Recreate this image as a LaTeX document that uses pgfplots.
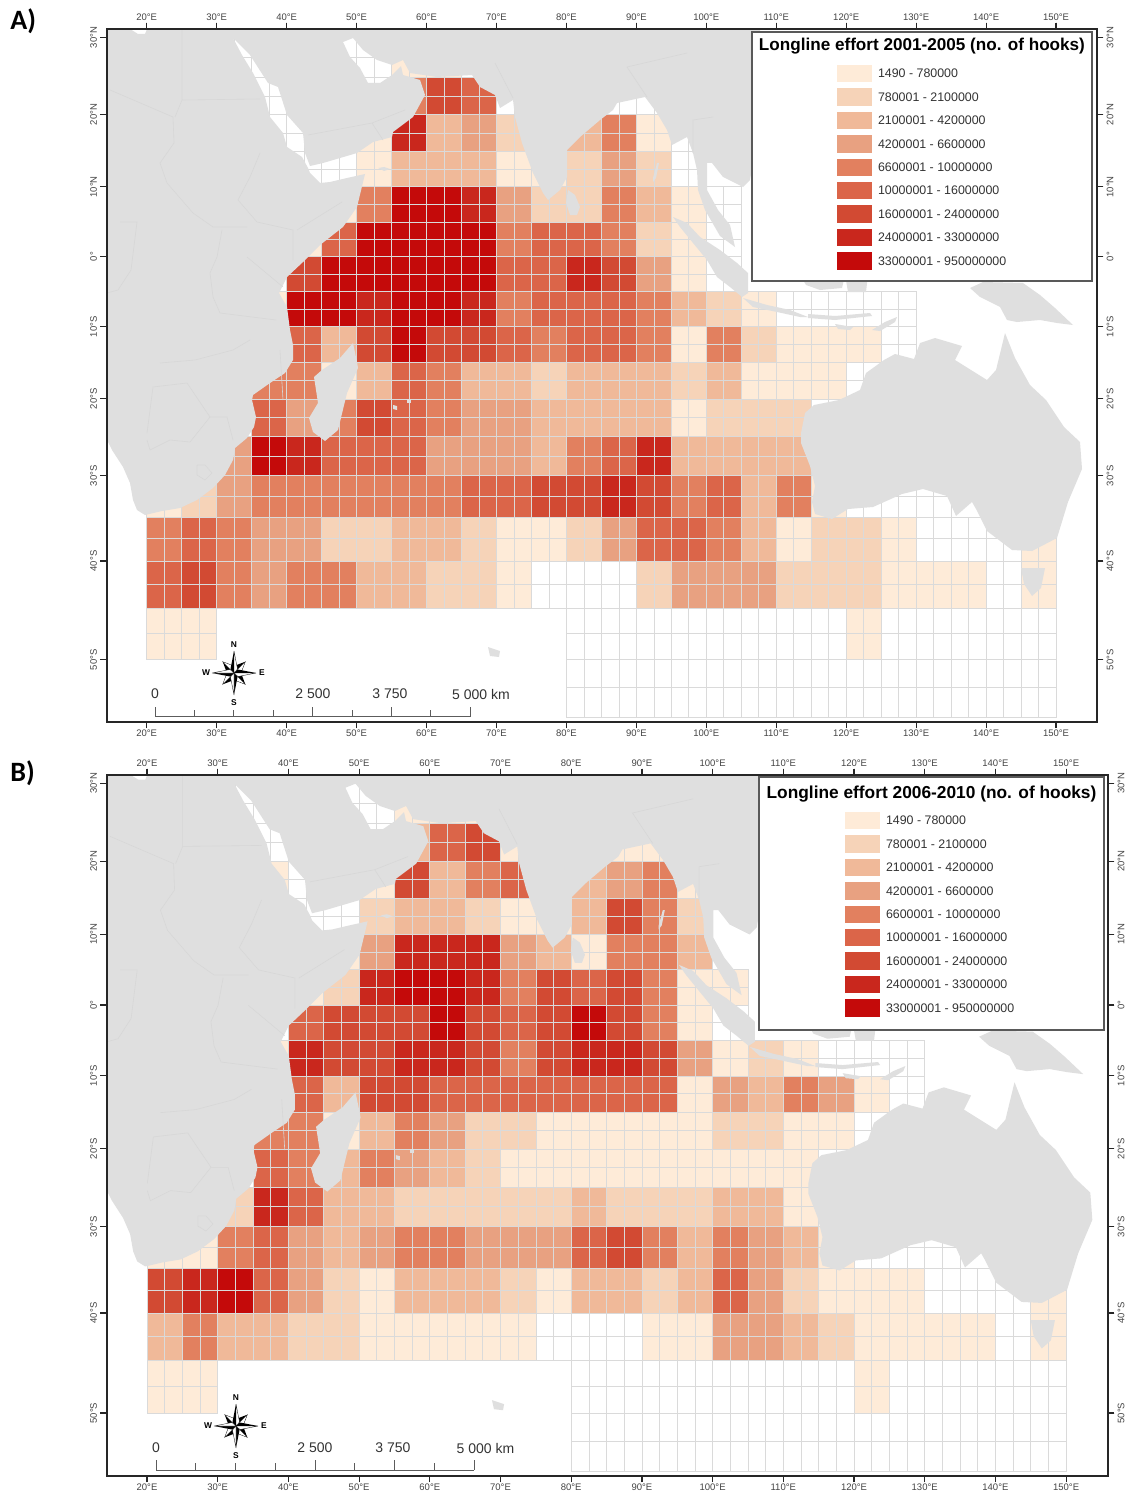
\documentclass[border=0pt]{standalone}
\usepackage{pgfplots}
\usepackage{pgfplotstable}
\usepackage{fontspec}
\setmainfont{Liberation Sans}
\newfontfamily\labfont{Carlito}
\pgfplotsset{compat=1.18}
\definecolor{c1}{HTML}{FEEBD8}
\definecolor{c2}{HTML}{F6D3B8}
\definecolor{c3}{HTML}{F0B999}
\definecolor{c4}{HTML}{E8A181}
\definecolor{c5}{HTML}{E2805F}
\definecolor{c6}{HTML}{DB6549}
\definecolor{c7}{HTML}{D24A33}
\definecolor{c8}{HTML}{C9271D}
\definecolor{c9}{HTML}{C40A0A}
\definecolor{land}{HTML}{DFDFDF}
\definecolor{bord}{HTML}{D7D7D7}
\definecolor{gridc}{HTML}{DADADA}
\definecolor{tickt}{HTML}{444444}
\definecolor{bart}{HTML}{333333}
% one 5 x 5 degree cell, with its 2.5 degree mid lines
\pgfdeclareplotmark{cell}{%
 \pgfpathrectangle{\pgfpointorigin}{\pgfpoint{5*\ux}{\h*\uy}}\pgfusepathqfill
 \pgfsetstrokecolor{gridc}\pgfsetlinewidth{.35pt}%
 \pgfpathrectangle{\pgfpointorigin}{\pgfpoint{5*\ux}{\h*\uy}}%
 \pgfpathmoveto{\pgfpoint{2.5*\ux}{0pt}}\pgfpathlineto{\pgfpoint{2.5*\ux}{\h*\uy}}%
 \pgfpathmoveto{\pgfpoint{0pt}{\hm*\uy}}\pgfpathlineto{\pgfpoint{5*\ux}{\hm*\uy}}%
 \pgfusepathqstroke}
% lon = left edge, lat = lower edge, c = effort class (0 = no effort)
\pgfplotstableread[row sep=\\]{
lon lat c\\
30 25 0\\ 35 25 0\\ 45 25 0\\ 50 25 0\\ 55 25 1\\ 60 25 1\\ 65 25 0\\
35 20 0\\ 50 20 0\\ 55 20 5\\ 60 20 7\\ 65 20 6\\ 70 20 0\\ 85 20 0\\ 90 20 0\\
35 15 0\\ 40 15 0\\ 50 15 1\\ 55 15 8\\ 60 15 3\\ 65 15 4\\ 70 15 2\\ 80 15 3\\ 85 15 5\\ 90 15 1\\ 95 15 0\\
40 10 0\\ 45 10 0\\ 50 10 1\\ 55 10 3\\ 60 10 3\\ 65 10 3\\ 70 10 1\\ 75 10 1\\ 80 10 2\\ 85 10 4\\ 90 10 2\\ 95 10 0\\
45 5 1\\ 50 5 5\\ 55 5 9\\ 60 5 9\\ 65 5 8\\ 70 5 4\\ 75 5 2\\ 80 5 2\\ 85 5 5\\ 90 5 3\\ 95 5 1\\ 100 5 0\\
40 0 1\\ 45 0 6\\ 50 0 9\\ 55 0 9\\ 60 0 9\\ 65 0 9\\ 70 0 5\\ 75 0 6\\ 80 0 6\\ 85 0 5\\ 90 0 2\\ 95 0 1\\ 100 0 0\\
40 -5 7\\ 45 -5 9\\ 50 -5 9\\ 55 -5 9\\ 60 -5 9\\ 65 -5 9\\ 70 -5 6\\ 75 -5 6\\ 80 -5 8\\ 85 -5 7\\ 90 -5 4\\ 95 -5 1\\ 100 -5 0\\
35 -10 1\\ 40 -10 9\\ 45 -10 9\\ 50 -10 8\\ 55 -10 9\\ 60 -10 9\\ 65 -10 8\\ 70 -10 5\\ 75 -10 6\\ 80 -10 6\\ 85 -10 6\\ 90 -10 5\\ 95 -10 3\\ 100 -10 2\\ 105 -10 1\\ 110 -10 0\\ 115 -10 0\\ 120 -10 0\\ 125 -10 0\\
40 -15 6\\ 45 -15 3\\ 50 -15 7\\ 55 -15 9\\ 60 -15 7\\ 65 -15 7\\ 70 -15 6\\ 75 -15 5\\ 80 -15 6\\ 85 -15 6\\ 90 -15 5\\ 95 -15 1\\ 100 -15 5\\ 105 -15 2\\ 110 -15 1\\ 115 -15 1\\ 120 -15 1\\ 125 -15 0\\
35 -20 5\\ 40 -20 5\\ 45 -20 1\\ 50 -20 3\\ 55 -20 6\\ 60 -20 5\\ 65 -20 3\\ 70 -20 3\\ 75 -20 2\\ 80 -20 3\\ 85 -20 3\\ 90 -20 3\\ 95 -20 2\\ 100 -20 3\\ 105 -20 1\\ 110 -20 1\\ 115 -20 1\\ 120 -20 0\\
35 -25 6\\ 40 -25 4\\ 45 -25 5\\ 50 -25 7\\ 55 -25 6\\ 60 -25 5\\ 65 -25 4\\ 70 -25 4\\ 75 -25 3\\ 80 -25 3\\ 85 -25 3\\ 90 -25 3\\ 95 -25 1\\ 100 -25 2\\ 105 -25 2\\ 110 -25 2\\ 115 -25 0\\
30 -30 4\\ 35 -30 9\\ 40 -30 8\\ 45 -30 6\\ 50 -30 6\\ 55 -30 6\\ 60 -30 4\\ 65 -30 4\\ 70 -30 4\\ 75 -30 3\\ 80 -30 5\\ 85 -30 6\\ 90 -30 8\\ 95 -30 3\\ 100 -30 3\\ 105 -30 3\\ 110 -30 3\\
20 -35 1\\ 25 -35 2\\ 30 -35 4\\ 35 -35 5\\ 40 -35 5\\ 45 -35 5\\ 50 -35 5\\ 55 -35 5\\ 60 -35 5\\ 65 -35 6\\ 70 -35 6\\ 75 -35 7\\ 80 -35 7\\ 85 -35 8\\ 90 -35 7\\ 95 -35 5\\ 100 -35 6\\ 105 -35 3\\ 110 -35 5\\ 115 -35 1\\ 120 -35 0\\ 125 -35 0\\ 130 -35 0\\
20 -40 5\\ 25 -40 6\\ 30 -40 5\\ 35 -40 4\\ 40 -40 4\\ 45 -40 2\\ 50 -40 2\\ 55 -40 3\\ 60 -40 3\\ 65 -40 2\\ 70 -40 1\\ 75 -40 1\\ 80 -40 2\\ 85 -40 4\\ 90 -40 6\\ 95 -40 6\\ 100 -40 5\\ 105 -40 3\\ 110 -40 1\\ 115 -40 2\\ 120 -40 2\\ 125 -40 1\\ 130 -40 0\\ 135 -40 0\\ 140 -40 0\\ 145 -40 1\\
20 -45 6\\ 25 -45 7\\ 30 -45 5\\ 35 -45 4\\ 40 -45 5\\ 45 -45 5\\ 50 -45 3\\ 55 -45 3\\ 60 -45 2\\ 65 -45 2\\ 70 -45 1\\ 75 -45 0\\ 80 -45 0\\ 85 -45 0\\ 90 -45 2\\ 95 -45 4\\ 100 -45 4\\ 105 -45 4\\ 110 -45 2\\ 115 -45 2\\ 120 -45 2\\ 125 -45 1\\ 130 -45 1\\ 135 -45 1\\ 140 -45 0\\ 145 -45 1\\
20 -50 1\\ 25 -50 1\\ 80 -50 0\\ 85 -50 0\\ 90 -50 0\\ 95 -50 0\\ 100 -50 0\\ 105 -50 0\\ 110 -50 0\\ 115 -50 0\\ 120 -50 1\\ 125 -50 0\\ 130 -50 0\\ 135 -50 0\\ 140 -50 0\\ 145 -50 0\\
80 -55 0\\ 85 -55 0\\ 90 -55 0\\ 95 -55 0\\ 100 -55 0\\ 105 -55 0\\ 110 -55 0\\ 115 -55 0\\ 120 -55 0\\ 125 -55 0\\ 130 -55 0\\ 135 -55 0\\ 140 -55 0\\ 145 -55 0\\
}\effortA
\pgfplotstableread[row sep=\\]{
lon lat c\\
30 25 0\\ 35 25 0\\ 45 25 0\\ 50 25 0\\ 55 25 1\\ 60 25 1\\ 65 25 1\\
35 20 0\\ 50 20 0\\ 55 20 3\\ 60 20 6\\ 65 20 7\\ 70 20 1\\ 85 20 1\\ 90 20 1\\
35 15 1\\ 40 15 0\\ 50 15 1\\ 55 15 7\\ 60 15 3\\ 65 15 5\\ 70 15 6\\ 80 15 3\\ 85 15 4\\ 90 15 5\\ 95 15 1\\
40 10 0\\ 45 10 0\\ 50 10 2\\ 55 10 3\\ 60 10 3\\ 65 10 2\\ 70 10 1\\ 75 10 1\\ 80 10 3\\ 85 10 7\\ 90 10 5\\ 95 10 2\\
45 5 1\\ 50 5 4\\ 55 5 8\\ 60 5 8\\ 65 5 8\\ 70 5 4\\ 75 5 3\\ 80 5 1\\ 85 5 5\\ 90 5 5\\ 95 5 3\\
40 0 1\\ 45 0 2\\ 50 0 8\\ 55 0 9\\ 60 0 9\\ 65 0 8\\ 70 0 5\\ 75 0 7\\ 80 0 6\\ 85 0 7\\ 90 0 5\\ 95 0 1\\ 100 0 1\\
40 -5 6\\ 45 -5 7\\ 50 -5 7\\ 55 -5 7\\ 60 -5 9\\ 65 -5 7\\ 70 -5 6\\ 75 -5 7\\ 80 -5 9\\ 85 -5 7\\ 90 -5 5\\ 95 -5 1\\ 100 -5 0\\
35 -10 1\\ 40 -10 8\\ 45 -10 7\\ 50 -10 7\\ 55 -10 8\\ 60 -10 8\\ 65 -10 7\\ 70 -10 5\\ 75 -10 7\\ 80 -10 8\\ 85 -10 8\\ 90 -10 7\\ 95 -10 4\\ 100 -10 1\\ 105 -10 2\\ 110 -10 1\\ 115 -10 0\\ 120 -10 0\\ 125 -10 0\\
40 -15 6\\ 45 -15 3\\ 50 -15 7\\ 55 -15 7\\ 60 -15 6\\ 65 -15 6\\ 70 -15 6\\ 75 -15 6\\ 80 -15 6\\ 85 -15 6\\ 90 -15 6\\ 95 -15 1\\ 100 -15 4\\ 105 -15 3\\ 110 -15 5\\ 115 -15 4\\ 120 -15 1\\ 125 -15 0\\
35 -20 5\\ 40 -20 5\\ 45 -20 1\\ 50 -20 3\\ 55 -20 5\\ 60 -20 4\\ 65 -20 2\\ 70 -20 2\\ 75 -20 1\\ 80 -20 1\\ 85 -20 1\\ 90 -20 1\\ 95 -20 1\\ 100 -20 2\\ 105 -20 2\\ 110 -20 1\\ 115 -20 1\\ 120 -20 0\\
35 -25 6\\ 40 -25 5\\ 45 -25 3\\ 50 -25 5\\ 55 -25 4\\ 60 -25 3\\ 65 -25 2\\ 70 -25 1\\ 75 -25 1\\ 80 -25 1\\ 85 -25 1\\ 90 -25 1\\ 95 -25 1\\ 100 -25 1\\ 105 -25 1\\ 110 -25 1\\ 115 -25 0\\
30 -30 2\\ 35 -30 8\\ 40 -30 6\\ 45 -30 3\\ 50 -30 3\\ 55 -30 2\\ 60 -30 2\\ 65 -30 2\\ 70 -30 2\\ 75 -30 2\\ 80 -30 3\\ 85 -30 2\\ 90 -30 2\\ 95 -30 2\\ 100 -30 3\\ 105 -30 3\\ 110 -30 1\\
20 -35 1\\ 25 -35 1\\ 30 -35 5\\ 35 -35 6\\ 40 -35 4\\ 45 -35 3\\ 50 -35 4\\ 55 -35 5\\ 60 -35 5\\ 65 -35 4\\ 70 -35 4\\ 75 -35 4\\ 80 -35 6\\ 85 -35 7\\ 90 -35 5\\ 95 -35 3\\ 100 -35 5\\ 105 -35 4\\ 110 -35 3\\ 115 -35 1\\ 120 -35 0\\ 125 -35 0\\ 130 -35 0\\
20 -40 7\\ 25 -40 8\\ 30 -40 9\\ 35 -40 6\\ 40 -40 4\\ 45 -40 2\\ 50 -40 1\\ 55 -40 3\\ 60 -40 3\\ 65 -40 3\\ 70 -40 2\\ 75 -40 1\\ 80 -40 3\\ 85 -40 3\\ 90 -40 2\\ 95 -40 3\\ 100 -40 6\\ 105 -40 4\\ 110 -40 2\\ 115 -40 1\\ 120 -40 1\\ 125 -40 1\\ 130 -40 0\\ 135 -40 0\\ 140 -40 0\\ 145 -40 1\\
20 -45 3\\ 25 -45 5\\ 30 -45 3\\ 35 -45 3\\ 40 -45 2\\ 45 -45 2\\ 50 -45 1\\ 55 -45 1\\ 60 -45 1\\ 65 -45 1\\ 70 -45 1\\ 75 -45 0\\ 80 -45 0\\ 85 -45 0\\ 90 -45 1\\ 95 -45 1\\ 100 -45 4\\ 105 -45 4\\ 110 -45 3\\ 115 -45 2\\ 120 -45 1\\ 125 -45 1\\ 130 -45 1\\ 135 -45 1\\ 140 -45 0\\ 145 -45 1\\
20 -50 1\\ 25 -50 1\\ 80 -50 0\\ 85 -50 0\\ 90 -50 0\\ 95 -50 0\\ 100 -50 0\\ 105 -50 0\\ 110 -50 0\\ 115 -50 0\\ 120 -50 1\\ 125 -50 0\\ 130 -50 0\\ 135 -50 0\\ 140 -50 0\\ 145 -50 0\\
80 -55 0\\ 85 -55 0\\ 90 -55 0\\ 95 -55 0\\ 100 -55 0\\ 105 -55 0\\ 110 -55 0\\ 115 -55 0\\ 120 -55 0\\ 125 -55 0\\ 130 -55 0\\ 135 -55 0\\ 140 -55 0\\ 145 -55 0\\
}\effortB
% coast outlines (picture pixels)
\pgfplotstableread[row sep=\\,header=false]{
100 436\\107 440\\112 450\\123 467\\130 483\\133 500\\137 510\\145 515\\162 511\\180 508\\197 500\\213 488\\225 475\\233 460\\235 448\\247 438\\254 427\\256 417\\252 400\\253 395\\270 383\\285 373\\293 360\\293 345\\290 330\\287 307\\279 293\\287 277\\303 262\\320 245\\343 227\\357 207\\365 174\\347 178\\330 182\\320 183\\310 173\\308 168\\302 157\\287 147\\283 133\\270 117\\265 97\\253 73\\242 55\\233 38\\250 55\\268 83\\278 87\\287 115\\303 133\\305 153\\310 166\\323 163\\357 153\\373 142\\392 137\\393 132\\405 123\\413 117\\425 95\\420 80\\403 75\\401 66\\392 75\\380 83\\368 83\\360 68\\350 57\\343 42\\353 38\\363 50\\377 60\\392 65\\403 60\\410 73\\437 77\\472 75\\480 87\\495 95\\500 108\\513 100\\515 117\\522 143\\533 173\\543 193\\548 200\\560 190\\567 177\\567 150\\580 137\\600 120\\613 110\\617 103\\645 97\\657 113\\667 130\\672 145\\687 137\\693 153\\697 170\\698 190\\705 210\\720 236\\735 247\\730 225\\718 210\\707 190\\707 163\\712 163\\723 177\\743 187\\750 180\\755 150\\760 100\\760 20\\147 20\\147 29\\145 34\\138 34\\130 29\\130 20\\100 20\\
}\landMain
\pgfplotstableread[row sep=\\,header=false]{
353 343\\357 362\\358 368\\347 393\\338 430\\325 441\\313 432\\309 418\\318 403\\314 377\\322 370\\340 358\\
}\landMad
\pgfplotstableread[row sep=\\,header=false]{
568 190\\575 195\\580 207\\577 215\\570 215\\566 203\\
}\landSri
\pgfplotstableread[row sep=\\,header=false]{
673 217\\687 223\\700 237\\720 250\\737 263\\748 273\\748 293\\742 297\\730 287\\717 277\\707 260\\693 243\\680 227\\
}\landSum
\pgfplotstableread[row sep=\\,header=false]{
743 298\\767 305\\790 310\\808 317\\800 317\\777 312\\753 307\\
}\landJav
\pgfplotstableread[row sep=\\,header=false]{
808 314\\835 316\\870 313\\872 316\\835 320\\808 318\\
}\landSun
\pgfplotstableread[row sep=\\,header=false]{
872 330\\885 322\\897 317\\895 322\\880 331\\
}\landTim
\pgfplotstableread[row sep=\\,header=false]{
835 324\\853 327\\850 330\\838 329\\
}\landSumba
\pgfplotstableread[row sep=\\,header=false]{
800 275\\845 275\\842 288\\820 290\\806 285\\
}\landBor
\pgfplotstableread[row sep=\\,header=false]{
845 275\\868 275\\866 292\\848 292\\
}\landSul
\pgfplotstableread[row sep=\\,header=false]{
983 282\\1023 283\\1040 295\\1055 308\\1073 325\\1057 323\\1040 320\\1017 322\\1007 320\\1000 307\\980 297\\970 288\\
}\landNG
\pgfplotstableread[row sep=\\,header=false]{
801 433\\805 413\\814 405\\839 400\\860 390\\866 373\\884 360\\895 354\\914 359\\920 343\\935 338\\962 346\\955 360\\987 380\\996 370\\1005 333\\1015 358\\1030 385\\1046 400\\1064 427\\1080 442\\1082 469\\1068 502\\1057 538\\1032 551\\1012 550\\987 531\\976 509\\972 502\\956 516\\947 496\\923 489\\902 494\\873 507\\848 509\\832 519\\815 514\\812 502\\815 486\\810 466\\801 443\\
}\landAus
\pgfplotstableread[row sep=\\,header=false]{
1021 568\\1045 568\\1041 588\\1032 596\\1024 584\\
}\landTas
\pgfplotstableread[row sep=\\,header=false]{
488 647\\500 651\\499 657\\490 656\\
}\landKer
\pgfplotstableread[row sep=\\,header=false]{
378 168\\384 167\\390 169\\384 171\\
}\landSoc
\pgfplotstableread[row sep=\\,header=false]{
393 405\\397 406\\397 410\\393 409\\
}\landReu
\pgfplotstableread[row sep=\\,header=false]{
407 399\\411 399\\411 403\\407 403\\
}\landMau
\pgfplotstableread[row sep=\\,header=false]{
657 163\\659 163\\656 178\\653 182\\653 178\\
}\landAnd
\pgfplotstableread[row sep=\\,header=false]{
182 29\\182 100\\260 99\\nan nan\\110 90\\173 117\\174 143\\160 163\\167 183\\193 213\\213 227\\247 227\\nan nan\\182 100\\175 117\\nan nan\\260 153\\250 177\\238 200\\257 222\\293 230\\293 260\\nan nan\\342 202\\297 230\\nan nan\\247 257\\283 287\\nan nan\\222 230\\217 257\\210 273\\213 297\\220 313\\276 320\\nan nan\\120 222\\137 222\\131 270\\118 290\\107 293\\nan nan\\308 135\\372 123\\383 140\\nan nan\\372 123\\405 110\\nan nan\\513 98\\495 63\\nan nan\\647 97\\627 67\\687 53\\nan nan\\693 153\\693 120\\713 117\\nan nan\\147 433\\153 387\\187 383\\210 417\\227 417\\233 440\\nan nan\\147 440\\150 450\\170 440\\190 442\\210 417\\nan nan\\197 465\\205 465\\212 473\\205 480\\197 475\\197 465\\nan nan\\160 363\\195 360\\233 350\\250 340\\nan nan\\280 350\\283 400\\nan nan\\
}\landBord
\newcommand\landplot[1]{\addplot[forget plot,fill=land,draw=none] table[x expr={20+(\thisrowno{0}-146.7)/6.995},y expr={(256.7-\thisrowno{1})/6.96}] {#1};}
\newcommand\alllandplots{%
\landplot{\landMain}\landplot{\landMad}\landplot{\landSri}\landplot{\landSum}\landplot{\landJav}\landplot{\landSun}\landplot{\landTim}\landplot{\landSumba}\landplot{\landBor}\landplot{\landSul}\landplot{\landNG}\landplot{\landAus}\landplot{\landTas}\landplot{\landKer}\landplot{\landSoc}\landplot{\landReu}\landplot{\landMau}\landplot{\landAnd}%
\addplot[forget plot,draw=bord,line width=.3pt,unbounded coords=jump] table[x expr={20+(\thisrowno{0}-146.7)/6.995},y expr={(256.7-\thisrowno{1})/6.96}] {\landBord};}
\pgfplotsset{
 mapaxis/.style={
  clip mode=individual,
  axis line style={line width=1pt,draw=black!85},
  tick style={line width=.6pt,draw=black!85},
  major tick length=3.2pt, tick align=outside, tick pos=both,
  xtick={20,30,...,150},
  xticklabels={20°E,30°E,40°E,50°E,60°E,70°E,80°E,90°E,100°E,110°E,120°E,130°E,140°E,150°E},
  ytick={-57.91,-43.71,-31.47,-20.42,-10.05,0,10.05,20.42,31.47},
  yticklabels={50°S,40°S,30°S,20°S,10°S,0°,10°N,20°N,30°N},
  tick label style={font=\fontsize{4.75}{5}\selectfont,text=tickt,inner sep=.8pt},
 },
 cellplot/.style={forget plot,scatter,only marks,mark=cell,scatter src=explicit symbolic,
  visualization depends on={deg(ln(tan(45+(\thisrow{lat}+5)/2)))-deg(ln(tan(45+\thisrow{lat}/2))) \as \h},
  visualization depends on={deg(ln(tan(45+(\thisrow{lat}+2.5)/2)))-deg(ln(tan(45+\thisrow{lat}/2))) \as \hm},
  scatter/classes={0={fill=white},1={fill=c1},2={fill=c2},3={fill=c3},4={fill=c4},5={fill=c5},6={fill=c6},7={fill=c7},8={fill=c8},9={fill=c9}}},
 swatch/.style={legend image code/.code={\fill[##1,draw=none] (0pt,-3.65pt) rectangle (17.5pt,5.05pt);}},
 effortlegend/.style={legend cell align=left,
  legend style={draw=none,fill=none,inner sep=0pt,outer sep=0pt,row sep=3pt,column sep=3pt,
   font=\fontsize{6.2}{7}\selectfont,text=black!80,nodes={inner sep=0pt,outer sep=0pt}}},
}
\newcommand\legendentries{%
\addlegendimage{swatch,fill=c1}\addlegendentry{1490 - 780000}
\addlegendimage{swatch,fill=c2}\addlegendentry{780001 - 2100000}
\addlegendimage{swatch,fill=c3}\addlegendentry{2100001 - 4200000}
\addlegendimage{swatch,fill=c4}\addlegendentry{4200001 - 6600000}
\addlegendimage{swatch,fill=c5}\addlegendentry{6600001 - 10000000}
\addlegendimage{swatch,fill=c6}\addlegendentry{10000001 - 16000000}
\addlegendimage{swatch,fill=c7}\addlegendentry{16000001 - 24000000}
\addlegendimage{swatch,fill=c8}\addlegendentry{24000001 - 33000000}
\addlegendimage{swatch,fill=c9}\addlegendentry{33000001 - 950000000}}
\newcommand\compass[2]{%
\begin{scope}[shift={(#1,#2)}]
\foreach \r in {45,135,225,315}{\begin{scope}[rotate=\r]
\fill[black] (0,0)--(0,16)--(4.5,6)--cycle;
\fill[white,draw=black,line width=.15pt] (0,0)--(0,16)--(-4.5,6)--cycle;
\end{scope}}
\foreach \r in {0,90,180,270}{\begin{scope}[rotate=\r]
\fill[black] (0,0)--(0,22)--(3.5,4)--cycle;
\fill[white,draw=black,line width=.15pt] (0,0)--(0,22)--(-3.5,4)--cycle;
\end{scope}}
\node[font=\fontsize{4.2}{5}\selectfont\bfseries,inner sep=0] at (0,-28) {N};
\node[font=\fontsize{4.2}{5}\selectfont\bfseries,inner sep=0] at (0,30) {S};
\node[font=\fontsize{4.2}{5}\selectfont\bfseries,inner sep=0] at (-28,0) {W};
\node[font=\fontsize{4.2}{5}\selectfont\bfseries,inner sep=0] at (28,0) {E};
\end{scope}}
\newcommand\scalebar[3]{% x0, dx per tick, baseline y
\draw[bart!80,line width=.5pt] (#1,#3)--(#1+8*#2,#3);
\foreach \i/\l in {0/10,1/7,2/7,3/7,4/10,5/7,6/10,7/7,8/10}{\draw[bart!80,line width=.5pt] (#1+\i*#2,#3)--(#1+\i*#2,#3-\l);}}
\begin{document}
\begin{tikzpicture}
\path[use as bounding box] (0,0) rectangle (564pt,-753pt);
% ---------- panel A
\def\ux{3.4975pt}\def\uy{3.48pt}
\begin{axis}[at={(53.35pt,-360.85pt)},anchor=south west,x=3.4975pt,y=3.48pt,
 xmin=14.28,xmax=155.85,ymin=-66.81,ymax=32.72,mapaxis,xticklabel pos=lower,yticklabel pos=left,
 yticklabel style={rotate=90,anchor=south,inner sep=1.5pt},effortlegend,
 legend style={at={(axis cs:118.69,27.54)},anchor=north west}]
\addplot[cellplot] table[x=lon,y expr={deg(ln(tan(45+\thisrow{lat}/2)))},meta=c] {\effortA};
\alllandplots
\path[fill=white,draw=black!65,line width=.8pt] (axis cs:106.49,32.28) rectangle (axis cs:155.10,-3.49);
\node[font=\fontsize{8.56}{10}\selectfont\bfseries] at (axis cs:130.83,30.22) {Longline effort 2001-2005 (no. of hooks)};
\legendentries
\end{axis}
\begin{axis}[at={(53.35pt,-360.85pt)},anchor=south west,x=3.4975pt,y=3.48pt,
 xmin=14.28,xmax=155.85,ymin=-66.81,ymax=32.72,mapaxis,xticklabel pos=upper,yticklabel pos=right,
 yticklabel style={rotate=90,anchor=north,inner sep=1.5pt}]
\end{axis}
% ---------- panel B
\def\ux{3.535pt}\def\uy{3.5225pt}
\begin{axis}[at={(53.35pt,-737.85pt)},anchor=south west,x=3.535pt,y=3.5225pt,
 xmin=14.30,xmax=155.93,ymin=-66.81,ymax=32.65,mapaxis,xticklabel pos=lower,yticklabel pos=left,
 yticklabel style={rotate=90,anchor=south,inner sep=1.5pt},effortlegend,
 legend style={at={(axis cs:118.73,27.4)},anchor=north west}]
\addplot[cellplot] table[x=lon,y expr={deg(ln(tan(45+\thisrow{lat}/2)))},meta=c] {\effortB};
\alllandplots
\path[fill=white,draw=black!65,line width=.8pt] (axis cs:106.56,32.36) rectangle (axis cs:155.36,-3.55);
\node[font=\fontsize{8.66}{10}\selectfont\bfseries] at (axis cs:130.96,30.0) {Longline effort 2006-2010 (no. of hooks)};
\legendentries
\end{axis}
\begin{axis}[at={(53.35pt,-737.85pt)},anchor=south west,x=3.535pt,y=3.5225pt,
 xmin=14.30,xmax=155.93,ymin=-66.81,ymax=32.65,mapaxis,xticklabel pos=upper,yticklabel pos=right,
 yticklabel style={rotate=90,anchor=north,inner sep=1.5pt}]
\end{axis}
% ---------- furniture, in picture pixels
\begin{scope}[x=.5pt,y=-.5pt]
\node[font=\fontsize{14}{16}\selectfont\labfont\bfseries,anchor=west,inner sep=0] at (10,21) {A)};
\node[font=\fontsize{14}{16}\selectfont\labfont\bfseries,anchor=west,inner sep=0] at (10,773) {B)};
\compass{234}{673}
\compass{236}{1426}
\scalebar{155}{39.4}{716.7}
\scalebar{156}{39.75}{1470}
\begin{scope}[every node/.style={font=\fontsize{7}{8}\selectfont,text=bart,inner sep=0}]
\node at (155,694) {0};
\node at (313,694) {2 500};
\node at (390,694) {3 750};
\node at (481,694) {5 000 km};
\node at (156,1448) {0};
\node at (315,1448) {2 500};
\node at (393,1448) {3 750};
\node at (485.5,1448) {5 000 km};
\end{scope}
\end{scope}
\end{tikzpicture}
\end{document}
